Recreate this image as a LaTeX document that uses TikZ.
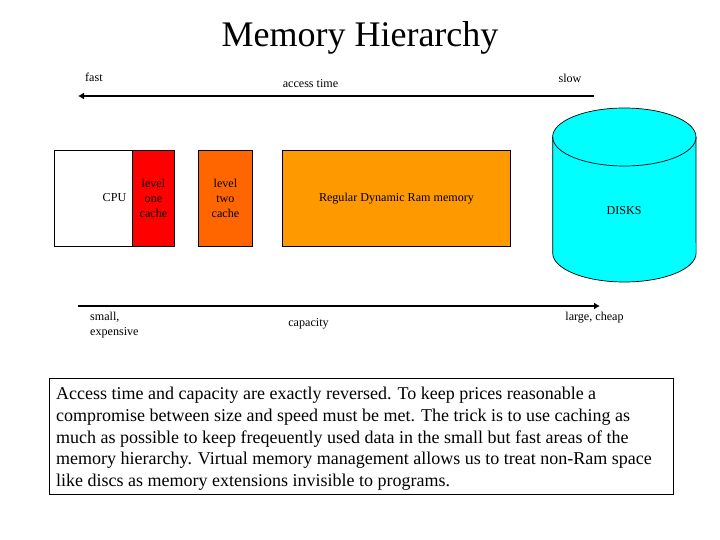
\documentclass[tikz,border=0pt]{standalone}
\usepackage{fontspec}
\setmainfont{Liberation Serif}
\usetikzlibrary{arrows.meta}
\definecolor{ltwo}{HTML}{FF6600}
\definecolor{ram}{HTML}{FF9900}
\definecolor{disk}{HTML}{00FFFF}
\tikzset{
  block/.style={draw=black,line width=0.9pt,anchor=north west,inner sep=0pt},
  small/.style={font=\fontsize{12.1}{15}\selectfont,inner sep=0pt,align=center},
  axis/.style={line width=2pt,-{Latex[length=6pt,width=7pt]}}
}
\begin{document}
\begin{tikzpicture}[x=1pt,y=-1pt]
\useasboundingbox (0,0) rectangle (720,540);
\node[font=\fontsize{36}{40}\selectfont,inner sep=0pt] (title) at (360,37.5) {Memory Hierarchy};
\node[small,anchor=west] (fast) at (85,77.5) {fast};
\node[small] (access) at (310.5,84) {access time};
\node[small] (slow) at (570,78) {slow};
\coordinate (tr) at (594,96);
\coordinate (tl) at (78,96);
\draw[axis] (tr) -- (tl);
\node[block,fill=white,minimum width=78pt,minimum height=96pt] (cpu) at (54,150) {};
\node[small] (cpul) at (114.5,198) {CPU};
\node[block,fill=red,minimum width=42pt,minimum height=96pt,font=\fontsize{12.1}{15}\selectfont,align=center] (l1) at (132,150) {level\\one\\cache};
\node[block,fill=ltwo,minimum width=54pt,minimum height=96pt,font=\fontsize{12.1}{15}\selectfont,align=center] (l2) at (198,150) {level\\two\\cache};
\node[block,fill=ram,minimum width=228pt,minimum height=96pt,font=\fontsize{12.1}{15}\selectfont] (rammem) at (282,150) {Regular Dynamic Ram memory};
% disk cylinder
\path[draw=black,line width=0.7pt,fill=disk] (552.7,137) -- (552.7,253) arc[start angle=180,end angle=0,x radius=71.7,y radius=29] -- (696,137) arc[start angle=0,end angle=-180,x radius=71.7,y radius=29] -- cycle;
\draw[line width=0.7pt] (552.7,137) arc[start angle=180,end angle=0,x radius=71.7,y radius=29];
\node[small] (disks) at (624,210.5) {DISKS};
\coordinate (bl) at (78,306);
\coordinate (br) at (600,306);
\draw[axis] (bl) -- (br);
\node[small,anchor=north west,align=left] (smallexp) at (90,311.5) {small,\\expensive};
\node[small] (capacity) at (308.5,324) {capacity};
\node[small] (large) at (594.5,317.5) {large, cheap};
\node[draw=black,line width=0.9pt,fill=white,anchor=north west,minimum width=624pt,minimum height=116pt,inner sep=0pt] (textbox) at (49,378) {};
\node[anchor=north west,inner sep=0pt,align=left,font=\fontsize{18}{21.75}\selectfont] (para) at (56,387) {Access time and capacity are exactly reversed. To keep prices reasonable a\\compromise between size and speed must be met. The trick is to use caching as\\much as possible to keep freqeuently used data in the small but fast areas of the\\memory hierarchy. Virtual memory management allows us to treat non-Ram space\\like discs as memory extensions invisible to programs.};
\end{tikzpicture}
\end{document}
